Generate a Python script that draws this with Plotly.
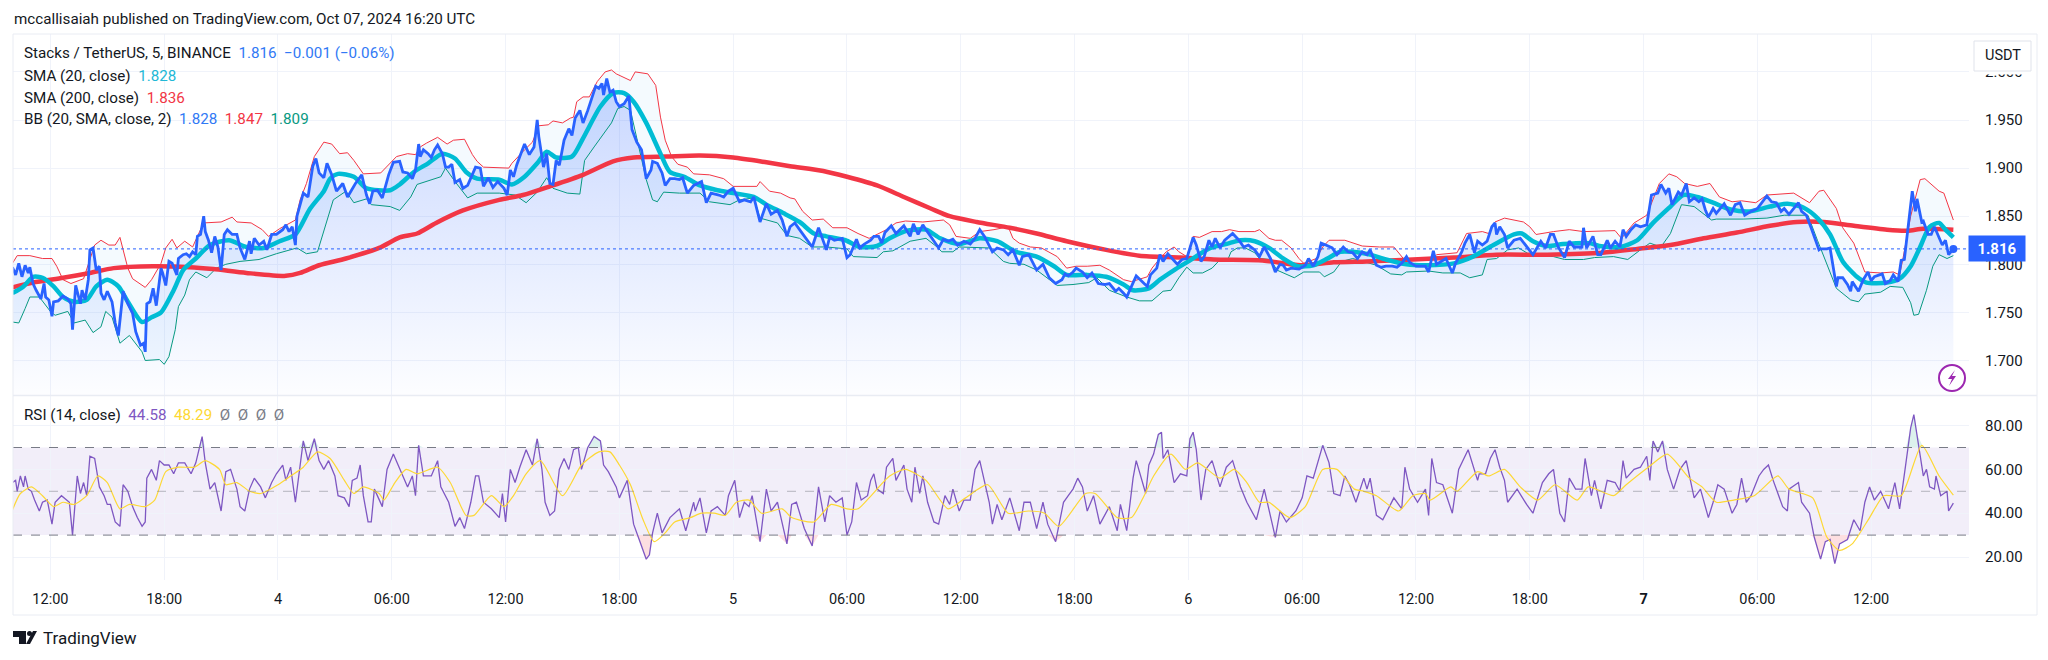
import numpy as np
import plotly.graph_objects as go

# x positions are 5 minute bars counted from Oct 03 10:00
tick_bars = [24, 96, 168, 240, 312, 384, 456, 528, 600, 672, 744, 816, 888, 960, 1032, 1104, 1176]
tick_text = ["12:00", "18:00", "4", "06:00", "12:00", "18:00", "5", "06:00", "12:00", "18:00", "6",
             "06:00", "12:00", "18:00", "<b>7</b>", "06:00", "12:00"]
price_ticks = [1.70, 1.75, 1.80, 1.85, 1.90, 1.95, 2.00]
rsi_ticks = [20, 40, 60, 80]
last_close = 1.816

close_pts = [(0,1.797),(2,1.789),(4,1.801),(6,1.787),(8,1.799),(10,1.791),(11,1.797),(13,1.780),(15,1.773),(18,1.764),
    (20,1.780),(21,1.766),(23,1.763),(25,1.746),(26,1.761),(29,1.762),(32,1.767),(35,1.764),(37,1.759),(38,1.732),
    (40,1.778),(43,1.759),(44,1.773),(46,1.763),(48,1.784),(49,1.815),(51,1.817),(53,1.794),(55,1.798),(56,1.770),
    (58,1.763),(60,1.772),(63,1.761),(65,1.739),(67,1.726),(70,1.772),(73,1.759),(76,1.749),(78,1.730),(81,1.716),
    (83,1.718),(84,1.709),(85,1.759),(87,1.761),(89,1.775),(91,1.757),(94,1.796),(95,1.791),(97,1.778),(99,1.803),
    (101,1.801),(104,1.789),(105,1.806),(108,1.810),(110,1.811),(112,1.808),(114,1.813),(116,1.810),(117,1.829),(119,1.831),
    (121,1.850),(122,1.834),(124,1.825),(126,1.812),(128,1.829),(130,1.818),(132,1.794),(134,1.831),(136,1.836),(139,1.831),
    (142,1.831),(144,1.817),(147,1.805),(150,1.824),(151,1.811),(153,1.827),(156,1.820),(159,1.824),(161,1.815),(164,1.831),
    (167,1.831),(171,1.836),(173,1.841),(175,1.834),(177,1.839),(179,1.820),(180,1.850),(184,1.874),(187,1.870),(190,1.902),
    (192,1.910),(194,1.895),(197,1.890),(199,1.905),(202,1.893),(205,1.876),(209,1.884),(212,1.870),(217,1.884),(221,1.893),
    (224,1.872),(226,1.863),(228,1.876),(231,1.877),(234,1.869),(238,1.893),(241,1.906),(245,1.907),(247,1.896),(250,1.895),
    (253,1.889),(255,1.898),(257,1.925),(258,1.912),(260,1.919),(263,1.915),(265,1.911),(267,1.919),(269,1.924),(272,1.915),
    (274,1.901),(276,1.901),(278,1.904),(280,1.885),(283,1.888),(285,1.879),(288,1.882),(291,1.893),(293,1.901),(296,1.900),
    (298,1.881),(301,1.890),(304,1.880),(307,1.886),(311,1.879),(313,1.872),(315,1.898),(317,1.891),(319,1.903),(321,1.912),
    (324,1.925),(327,1.914),(330,1.922),(332,1.950),(333,1.933),(336,1.901),(338,1.915),(340,1.884),(342,1.883),(344,1.908),
    (346,1.903),(349,1.929),(352,1.941),(354,1.934),(356,1.952),(359,1.960),(361,1.947),(364,1.960),(367,1.974),(369,1.985),
    (371,1.983),(373,1.988),(374,1.976),(376,1.993),(378,1.979),(380,1.981),(382,1.969),(384,1.964),(387,1.967),(390,1.975),
    (392,1.940),(395,1.927),(398,1.919),(401,1.889),(404,1.898),(405,1.907),(408,1.905),(411,1.895),(413,1.882),(416,1.889),
    (419,1.889),(422,1.888),(424,1.890),(427,1.874),(431,1.882),(434,1.884),(436,1.886),(439,1.864),(442,1.874),(447,1.872),
    (450,1.870),(453,1.876),(456,1.879),(460,1.865),(463,1.867),(467,1.865),(469,1.870),(473,1.844),(477,1.863),(480,1.852),
    (484,1.856),(487,1.846),(490,1.829),(492,1.839),(495,1.843),(498,1.836),(502,1.827),(506,1.818),(510,1.838),(513,1.825),
    (515,1.815),(517,1.828),(520,1.825),(525,1.827),(528,1.807),(530,1.810),(534,1.826),(536,1.817),(539,1.821),(543,1.825),
    (545,1.829),(548,1.829),(550,1.822),(552,1.833),(556,1.840),(559,1.832),(564,1.840),(568,1.829),(570,1.842),(573,1.831),
    (576,1.841),(578,1.836),(582,1.827),(586,1.817),(589,1.826),(592,1.824),(595,1.826),(598,1.820),(602,1.824),(606,1.821),
    (609,1.827),(612,1.836),(615,1.829),(620,1.813),(623,1.817),(627,1.815),(630,1.810),(633,1.815),(637,1.799),(639,1.808),
    (643,1.810),(648,1.794),(652,1.800),(656,1.786),(660,1.780),(664,1.784),(666,1.790),(668,1.788),(671,1.792),(673,1.796),
    (677,1.792),(680,1.786),(683,1.791),(687,1.780),(691,1.779),(694,1.780),(698,1.772),(700,1.775),(703,1.770),(705,1.766),
    (708,1.777),(711,1.788),(716,1.780),(718,1.777),(720,1.789),(724,1.796),(726,1.810),(728,1.803),(731,1.811),(735,1.803),
    (737,1.800),(740,1.805),(743,1.806),(747,1.828),(749,1.820),(752,1.803),(754,1.808),(757,1.825),(759,1.818),(761,1.827),
    (764,1.817),(767,1.825),(772,1.832),(776,1.825),(779,1.818),(782,1.820),(786,1.815),(789,1.808),(792,1.818),(796,1.806),
    (799,1.792),(802,1.800),(804,1.799),(806,1.794),(809,1.796),(814,1.795),(818,1.799),(820,1.806),(823,1.798),(826,1.808),
    (828,1.822),(831,1.820),(835,1.817),(838,1.810),(842,1.818),(845,1.813),(848,1.812),(851,1.806),(854,1.813),(857,1.810),
    (859,1.815),(863,1.799),(866,1.797),(869,1.798),(873,1.798),(876,1.797),(879,1.801),(882,1.808),(884,1.802),(888,1.798),
    (894,1.798),(896,1.792),(899,1.814),(901,1.800),(904,1.803),(907,1.806),(911,1.791),(913,1.801),(917,1.813),(919,1.822),
    (922,1.831),(925,1.812),(927,1.824),(930,1.820),(933,1.824),(936,1.839),(938,1.843),(939,1.831),(941,1.839),(944,1.831),
    (946,1.817),(950,1.825),(954,1.827),(958,1.819),(962,1.810),(967,1.824),(970,1.817),(973,1.831),(975,1.831),(978,1.818),
    (982,1.807),(985,1.824),(988,1.818),(993,1.818),(994,1.838),(996,1.817),(1000,1.829),(1003,1.810),(1005,1.810),(1009,1.825),
    (1011,1.817),(1014,1.824),(1017,1.818),(1019,1.836),(1021,1.829),(1024,1.836),(1027,1.841),(1030,1.839),(1034,1.841),(1035,1.851),
    (1037,1.872),(1041,1.874),(1043,1.883),(1046,1.874),(1048,1.879),(1050,1.862),(1054,1.875),(1056,1.872),(1059,1.884),(1061,1.865),
    (1064,1.869),(1067,1.865),(1069,1.868),(1071,1.857),(1073,1.849),(1076,1.858),(1078,1.853),(1083,1.863),(1087,1.851),(1090,1.862),
    (1093,1.864),(1096,1.851),(1100,1.855),(1104,1.858),(1108,1.867),(1110,1.871),(1113,1.865),(1116,1.864),(1119,1.855),(1121,1.858),
    (1124,1.852),(1127,1.858),(1130,1.864),(1132,1.855),(1135,1.851),(1138,1.838),(1143,1.815),(1144,1.816),(1148,1.816),(1150,1.817),
    (1152,1.797),(1154,1.777),(1155,1.786),(1158,1.786),(1161,1.779),(1163,1.772),(1164,1.782),(1168,1.772),(1171,1.784),(1174,1.792),
    (1176,1.783),(1178,1.787),(1183,1.790),(1185,1.780),(1188,1.783),(1190,1.789),(1193,1.782),(1195,1.804),(1197,1.805),(1200,1.846),
    (1202,1.876),(1204,1.855),(1205,1.868),(1208,1.844),(1209,1.845),(1212,1.831),(1214,1.831),(1216,1.839),(1219,1.827),(1221,1.820),
    (1223,1.825),(1225,1.810),(1228,1.816)]

upper_pts = [(0,1.801),(3,1.809),(11,1.809),(19,1.806),(25,1.806),(28,1.798),(32,1.784),(37,1.780),(45,1.785),(52,1.820),
    (56,1.825),(61,1.820),(65,1.820),(68,1.828),(73,1.796),(76,1.785),(84,1.776),(88,1.784),(94,1.801),(97,1.817),
    (101,1.826),(104,1.817),(109,1.824),(114,1.818),(117,1.829),(121,1.843),(132,1.844),(139,1.849),(142,1.844),(151,1.843),
    (158,1.836),(162,1.829),(169,1.837),(179,1.846),(182,1.867),(186,1.884),(191,1.912),(197,1.927),(202,1.925),(207,1.915),
    (212,1.916),(216,1.908),(222,1.894),(233,1.895),(243,1.912),(250,1.915),(255,1.914),(258,1.922),(262,1.926),(269,1.932),
    (275,1.925),(279,1.929),(286,1.930),(291,1.914),(294,1.907),(298,1.901),(314,1.900),(316,1.905),(324,1.919),(329,1.927),
    (333,1.944),(339,1.945),(342,1.949),(348,1.947),(353,1.952),(355,1.953),(357,1.969),(361,1.974),(365,1.974),(370,1.990),
    (375,2.000),(379,2.002),(382,1.998),(391,1.991),(394,2.000),(402,1.998),(407,1.986),(410,1.953),(413,1.929),(417,1.912),
    (421,1.904),(427,1.901),(431,1.894),(441,1.893),(450,1.889),(456,1.881),(471,1.881),(473,1.886),(479,1.876),(486,1.874),
    (492,1.869),(495,1.868),(500,1.855),(506,1.846),(513,1.847),(519,1.838),(528,1.838),(535,1.832),(542,1.827),(548,1.832),
    (553,1.836),(559,1.843),(565,1.845),(576,1.844),(589,1.846),(593,1.841),(597,1.829),(606,1.827),(612,1.834),(621,1.836),
    (630,1.839),(633,1.827),(637,1.822),(644,1.818),(651,1.817),(661,1.808),(667,1.796),(673,1.798),(680,1.798),(688,1.799),
    (694,1.794),(703,1.784),(708,1.782),(718,1.787),(721,1.796),(726,1.806),(730,1.813),(735,1.818),(738,1.813),(743,1.808),
    (747,1.829),(751,1.828),(759,1.834),(765,1.834),(770,1.836),(776,1.834),(786,1.834),(789,1.836),(795,1.827),(799,1.825),
    (803,1.825),(809,1.817),(814,1.806),(817,1.801),(825,1.806),(829,1.818),(833,1.825),(843,1.825),(854,1.819),(865,1.818),
    (874,1.818),(880,1.806),(899,1.806),(901,1.810),(914,1.812),(920,1.832),(930,1.834),(934,1.832),(938,1.844),(944,1.848),
    (956,1.844),(960,1.839),(964,1.831),(975,1.834),(985,1.836),(994,1.834),(1014,1.835),(1018,1.827),(1026,1.843),(1034,1.851),
    (1042,1.884),(1048,1.894),(1053,1.891),(1058,1.884),(1066,1.881),(1074,1.884),(1080,1.870),(1088,1.865),(1094,1.866),(1103,1.864),
    (1110,1.872),(1127,1.874),(1137,1.864),(1143,1.876),(1146,1.877),(1154,1.858),(1158,1.838),(1165,1.822),(1172,1.792),(1182,1.791),
    (1190,1.792),(1194,1.789),(1196,1.805),(1201,1.850),(1207,1.888),(1210,1.889),(1219,1.876),(1222,1.874),(1228,1.846)]

lower_pts = [(0,1.740),(4,1.739),(8,1.754),(11,1.766),(17,1.766),(24,1.751),(27,1.747),(35,1.751),(39,1.739),(46,1.742),
    (51,1.729),(56,1.735),(59,1.751),(63,1.745),(68,1.718),(74,1.726),(82,1.709),(84,1.700),(93,1.701),(96,1.696),
    (99,1.704),(103,1.732),(105,1.756),(109,1.768),(112,1.784),(116,1.792),(123,1.786),(129,1.796),(135,1.800),(144,1.803),
    (156,1.805),(167,1.811),(180,1.817),(186,1.811),(193,1.813),(196,1.829),(203,1.867),(211,1.876),(216,1.864),(224,1.868),
    (227,1.862),(239,1.860),(245,1.856),(252,1.870),(256,1.883),(271,1.891),(274,1.900),(280,1.886),(285,1.875),(288,1.869),
    (294,1.874),(308,1.874),(318,1.872),(325,1.864),(332,1.875),(338,1.890),(342,1.879),(351,1.874),(359,1.873),(362,1.908),
    (368,1.922),(374,1.936),(379,1.947),(383,1.962),(387,1.964),(391,1.960),(395,1.931),(401,1.888),(405,1.867),(408,1.865),
    (412,1.875),(422,1.874),(435,1.874),(441,1.865),(454,1.862),(460,1.867),(469,1.869),(473,1.848),(484,1.843),(490,1.830),
    (498,1.827),(506,1.818),(515,1.818),(528,1.816),(532,1.808),(547,1.807),(551,1.813),(557,1.814),(568,1.824),(578,1.827),
    (585,1.818),(588,1.813),(595,1.813),(599,1.818),(618,1.817),(627,1.803),(631,1.801),(640,1.800),(648,1.794),(656,1.784),
    (661,1.778),(671,1.779),(681,1.781),(686,1.786),(694,1.773),(705,1.766),(713,1.762),(721,1.762),(728,1.772),(733,1.773),
    (738,1.786),(743,1.797),(747,1.791),(753,1.791),(759,1.796),(763,1.803),(769,1.805),(771,1.813),(775,1.817),(780,1.817),
    (786,1.812),(789,1.806),(796,1.805),(800,1.794),(811,1.786),(817,1.792),(827,1.792),(830,1.787),(836,1.792),(841,1.803),
    (848,1.806),(863,1.799),(872,1.790),(879,1.789),(882,1.792),(896,1.793),(905,1.791),(916,1.791),(922,1.786),(930,1.789),
    (933,1.805),(939,1.806),(946,1.815),(953,1.817),(960,1.810),(975,1.808),(982,1.805),(994,1.805),(1001,1.807),(1013,1.808),
    (1022,1.805),(1030,1.815),(1036,1.822),(1043,1.818),(1049,1.832),(1056,1.862),(1064,1.860),(1075,1.846),(1078,1.847),(1095,1.847),
    (1110,1.848),(1121,1.851),(1136,1.851),(1142,1.825),(1148,1.801),(1154,1.775),(1163,1.763),(1168,1.761),(1172,1.769),(1182,1.771),
    (1188,1.777),(1196,1.776),(1201,1.760),(1203,1.747),(1206,1.748),(1211,1.773),(1215,1.798),(1219,1.810),(1224,1.806),(1228,1.809)]

sma20_pts = [(0,1.770),(7,1.777),(13,1.787),(19,1.786),(26,1.777),(32,1.766),(39,1.761),(47,1.763),(53,1.777),(60,1.784),
    (67,1.777),(73,1.761),(82,1.740),(88,1.745),(94,1.750),(102,1.773),(108,1.794),(116,1.806),(125,1.820),(137,1.825),
    (148,1.818),(159,1.817),(169,1.824),(179,1.831),(188,1.857),(197,1.876),(201,1.889),(206,1.894),(216,1.891),(224,1.879),
    (239,1.877),(245,1.883),(254,1.896),(263,1.905),(272,1.915),(280,1.910),(287,1.896),(294,1.889),(308,1.888),(316,1.883),
    (324,1.891),(332,1.905),(338,1.917),(344,1.911),(354,1.912),(361,1.931),(372,1.964),(380,1.978),(387,1.978),(393,1.969),
    (401,1.947),(410,1.915),(416,1.896),(425,1.891),(435,1.882),(446,1.877),(456,1.874),(469,1.870),(477,1.862),(488,1.853),
    (498,1.844),(507,1.832),(515,1.829),(527,1.825),(536,1.818),(547,1.819),(555,1.827),(566,1.835),(578,1.836),(587,1.827),
    (599,1.821),(612,1.827),(623,1.824),(635,1.813),(648,1.808),(659,1.798),(667,1.789),(680,1.789),(692,1.787),(703,1.779),
    (709,1.773),(719,1.775),(726,1.784),(735,1.794),(744,1.803),(758,1.817),(770,1.822),(777,1.825),(786,1.824),(795,1.817),
    (804,1.806),(813,1.798),(823,1.799),(832,1.806),(840,1.813),(848,1.813),(859,1.810),(869,1.805),(882,1.800),(895,1.799),
    (912,1.801),(924,1.808),(937,1.820),(950,1.831),(955,1.832),(962,1.824),(971,1.819),(981,1.821),(998,1.822),(1004,1.819),
    (1017,1.818),(1028,1.825),(1038,1.843),(1049,1.860),(1057,1.872),(1066,1.870),(1076,1.864),(1087,1.857),(1099,1.855),(1112,1.860),
    (1123,1.863),(1133,1.859),(1142,1.848),(1150,1.831),(1158,1.803),(1167,1.787),(1173,1.781),(1186,1.781),(1194,1.785),(1201,1.798),
    (1207,1.818),(1213,1.839),(1219,1.843),(1223,1.836),(1228,1.828)]

sma200_pts = [(0,1.776),(13,1.781),(32,1.786),(49,1.791),(64,1.796),(89,1.798),(112,1.797),(127,1.795),(148,1.791),(173,1.788),
    (182,1.791),(194,1.799),(211,1.806),(232,1.817),(245,1.828),(256,1.832),(268,1.843),(285,1.856),(308,1.867),(323,1.872),
    (340,1.881),(361,1.893),(380,1.907),(393,1.911),(414,1.912),(435,1.913),(456,1.911),(477,1.906),(492,1.902),(513,1.897),
    (528,1.891),(547,1.882),(564,1.870),(581,1.858),(593,1.850),(610,1.844),(631,1.838),(648,1.832),(667,1.824),(692,1.815),
    (713,1.809),(739,1.807),(760,1.805),(791,1.804),(815,1.799),(836,1.802),(857,1.803),(886,1.805),(912,1.807),(939,1.810),
    (971,1.810),(1006,1.812),(1028,1.816),(1049,1.820),(1070,1.827),(1091,1.833),(1112,1.840),(1129,1.844),(1146,1.844),(1165,1.840),
    (1186,1.836),(1199,1.835),(1209,1.837),(1228,1.836)]

rsi_pts = [(0,54),(2,55),(3,50),(5,57),(7,52),(8,57),(10,51),(12,50),(14,46),(17,41),(19,45),(22,46),(25,35),(27,45),(31,48),
    (36,45),(38,30),(41,57),(43,49),(45,54),(47,48),(49,66),(52,65),(55,52),(58,48),(60,44),(62,44),(65,36),(68,34),(70,53),
    (73,50),(76,43),(79,38),(82,34),(84,36),(85,56),(88,60),(91,55),(93,64),(96,62),(99,62),(102,58),(105,63),(109,63),(113,58),
    (116,63),(118,69),(120,75),(122,63),(125,51),(128,54),(132,41),(135,59),(138,60),(142,51),(144,43),(147,41),(150,51),(153,56),
    (157,52),(160,47),(164,54),(167,58),(171,62),(173,55),(176,61),(179,45),(181,57),(184,73),(187,64),(191,74),(194,64),(197,60),
    (200,64),(204,57),(206,48),(210,47),(213,43),(215,55),(218,56),(220,62),(222,48),(225,36),(227,36),(229,51),(234,43),(237,60),
    (241,67),(245,60),(248,55),(250,52),(253,57),(255,48),(257,71),(260,57),(265,57),(269,64),(271,52),(276,45),(280,34),(283,38),
    (286,33),(290,45),(293,57),(295,57),(298,45),(303,42),(308,38),(310,49),(312,36),(315,60),(318,54),(321,61),(325,69),(329,62),
    (332,74),(335,60),(337,45),(340,39),(343,41),(346,60),(349,65),(352,60),(355,69),(358,70),(360,60),(364,70),(368,75),(372,73),
    (374,62),(377,59),(382,52),(384,47),(389,55),(393,35),(396,29),(401,19),(403,21),(405,31),(408,40),(411,31),(416,38),(422,42),
    (426,32),(431,45),(432,41),(435,47),(439,31),(442,41),(446,43),(451,39),(453,48),(456,53),(457,55),(460,38),(463,45),(466,43),
    (468,48),(473,27),(477,51),(480,41),(484,45),(490,26),(493,44),(496,45),(501,33),(506,25),(510,52),(514,36),(517,48),(521,45),
    (525,47),(528,30),(531,36),(534,54),(537,46),(541,48),(543,55),(545,58),(547,51),(551,49),(553,61),(557,65),(559,55),(564,62),
    (566,51),(569,45),(571,61),(574,49),(576,57),(579,45),(583,36),(586,35),(590,48),(593,44),(595,51),(599,41),(602,46),(606,46),
    (609,60),(612,64),(615,55),(618,45),(620,35),(623,44),(626,37),(631,47),(637,32),(640,45),(644,45),(648,33),(652,45),(655,35),
    (660,27),(665,45),(668,48),(671,51),(674,56),(677,52),(680,41),(684,48),(688,35),(694,43),(699,32),(701,44),(705,32),(709,56),
    (711,64),(715,54),(717,49),(719,62),(722,67),(725,76),(727,77),(728,65),(731,69),(735,54),(739,58),(743,57),(745,74),(747,77),
    (749,69),(752,46),(755,60),(759,64),(764,52),(768,61),(772,64),(777,52),(781,45),(787,37),(792,51),(799,29),(802,41),(806,36),
    (812,41),(816,47),(819,57),(823,56),(829,71),(833,63),(836,49),(840,48),(843,57),(846,53),(850,45),(855,56),(857,51),(859,56),
    (863,39),(867,37),(870,41),(874,47),(879,42),(881,61),(884,51),(889,45),(894,51),(896,39),(898,65),(901,54),(905,53),(911,40),
    (915,60),(921,69),(927,55),(928,58),(932,58),(935,65),(938,69),(941,61),(944,55),(946,45),(952,51),(958,44),(962,40),(968,54),
    (972,58),(975,60),(979,40),(982,36),(985,56),(989,51),(993,51),(995,65),(999,48),(1001,55),(1005,42),(1009,55),(1014,54),(1017,50),
    (1019,64),(1021,56),(1026,60),(1030,61),(1034,66),(1036,55),(1038,73),(1041,68),(1044,73),(1047,60),(1051,51),(1055,60),(1059,64),(1064,47),
    (1068,51),(1073,38),(1076,45),(1079,53),(1083,51),(1088,40),(1091,44),(1094,56),(1097,45),(1100,48),(1105,57),(1108,60),(1111,62),(1114,55),
    (1120,43),(1123,41),(1124,51),(1130,54),(1132,45),(1137,40),(1140,29),(1144,19),(1147,27),(1150,28),(1153,17),(1156,26),(1161,28),(1165,37),
    (1169,32),(1172,45),(1175,52),(1178,46),(1182,50),(1187,42),(1191,54),(1194,42),(1198,63),(1201,79),(1203,85),(1205,76),(1209,57),(1211,60),
    (1213,52),(1216,51),(1217,57),(1220,48),(1224,50),(1225,41),(1228,44.58)]

rsi_ma_pts = [(0,41.5),(5,49),(12,52),(19,48),(26,43),(32,45),(39,44),(47,48),(54,57),(60,54),(68,42),(74,44),(84,43),(90,46),(97,59),
    (105,61),(115,61),(122,64),(131,60),(135,53),(142,54),(150,50),(157,49),(168,53),(176,57),(184,61),(193,68),(201,65),(210,55),(216,49),
    (222,52),(232,49),(235,46),(242,54),(249,60),(256,58),(269,61),(277,54),(287,39),(292,39),(303,48),(311,43),(317,48),(325,58),(334,64),
    (348,48),(360,62),(371,68),(378,68),(384,62),(391,53),(399,37),(406,27),(413,31),(419,36),(429,38),(436,40),(444,40),(451,39),(458,45),
    (466,46),(474,40),(487,42),(493,38),(507,36),(518,44),(528,42),(535,42),(542,47),(555,57),(565,60),(578,55),(592,42),(603,47),(617,53),
    (630,40),(643,41),(653,40),(662,34),(679,49),(685,49),(699,38),(708,38),(716,48),(722,57),(733,67),(742,60),(750,63),(764,56),(773,60),
    (781,54),(789,45),(795,45),(808,38),(818,43),(829,60),(838,60),(849,51),(855,50),(863,48),(877,41),(886,48),(894,49),(897,46),(910,52),
    (914,50),(927,59),(934,57),(944,60),(954,52),(965,46),(976,53),(990,46),(997,52),(1013,48),(1021,53),(1035,61),(1047,67),(1061,56),(1069,52),
    (1078,45),(1089,46),(1102,48),(1117,57),(1124,51),(1139,47),(1148,29),(1156,23),(1164,26),(1175,38),(1184,48),(1195,48),(1208,71),(1219,57),(1228,48.29)]

W, H = 2048, 660
FONT = "Roboto"
TEXT = "#131722"
GRID = "#f0f3fa"
BLUE = "#2962ff"
TEAL = "#00bcd4"
RED = "#f23645"
GREEN = "#089981"
PURPLE = "#7e57c2"
YELLOW = "#fdd835"
PRICE_RANGE = [1.6634, 2.0394]
RSI_RANGE = [9.5, 93.65]


def split(pts):
    xs, ys = zip(*pts)
    return list(xs), list(ys)


def px(x):
    return x / W


def py(y):
    return 1 - y / H


def poly(points):
    return "M" + " L".join(f"{px(x):.5f},{py(y):.5f}" for x, y in points) + " Z"


fig = go.Figure()

close_x, close_y = split(close_pts)
upper_x, upper_y = split(upper_pts)
lower_x, lower_y = split(lower_pts)
sma20_x, sma20_y = split(sma20_pts)
sma200_x, sma200_y = split(sma200_pts)
rsi_x, rsi_y = split(rsi_pts)
rsima_x, rsima_y = split(rsi_ma_pts)

# area under the close
fig.add_trace(go.Scatter(x=[close_x[0], close_x[-1]], y=[PRICE_RANGE[0]] * 2, mode="lines",
                         line=dict(width=0), hoverinfo="skip"))
fig.add_trace(go.Scatter(x=close_x, y=close_y, mode="lines", line=dict(width=0), hoverinfo="skip",
                         fill="tonexty",
                         fillgradient=dict(type="vertical", start=PRICE_RANGE[0], stop=2.0,
                                           colorscale=[[0, "rgba(41,98,255,0.01)"], [1, "rgba(41,98,255,0.26)"]])))
# bollinger bands
fig.add_trace(go.Scatter(x=lower_x, y=lower_y, mode="lines", line=dict(color=GREEN, width=1), opacity=0.85))
fig.add_trace(go.Scatter(x=upper_x, y=upper_y, mode="lines", line=dict(color=RED, width=1), opacity=0.9,
                         fill="tonexty", fillcolor="rgba(33,150,243,0.05)"))
fig.add_trace(go.Scatter(x=sma200_x, y=sma200_y, mode="lines", line=dict(color=RED, width=4.5, shape="spline", smoothing=0.7)))
fig.add_trace(go.Scatter(x=sma20_x, y=sma20_y, mode="lines", line=dict(color=TEAL, width=4.5, shape="spline", smoothing=0.7)))
fig.add_trace(go.Scatter(x=close_x, y=close_y, mode="lines", line=dict(color=BLUE, width=2.8)))
fig.add_trace(go.Scatter(x=close_x[-1:], y=[last_close], mode="markers", marker=dict(color=BLUE, size=8)))

# rsi pane
rsi_arr = np.array(rsi_y, dtype=float)
fig.add_trace(go.Scatter(x=rsi_x, y=[30] * len(rsi_x), mode="lines", line=dict(width=0), xaxis="x2", yaxis="y2"))
fig.add_trace(go.Scatter(x=rsi_x, y=np.minimum(rsi_arr, 30), mode="lines", line=dict(width=0), xaxis="x2", yaxis="y2",
                         fill="tonexty", fillcolor="rgba(242,54,69,0.16)"))
fig.add_trace(go.Scatter(x=rsi_x, y=[70] * len(rsi_x), mode="lines", line=dict(width=0), xaxis="x2", yaxis="y2"))
fig.add_trace(go.Scatter(x=rsi_x, y=np.maximum(rsi_arr, 70), mode="lines", line=dict(width=0), xaxis="x2", yaxis="y2",
                         fill="tonexty", fillcolor="rgba(8,153,129,0.14)"))
fig.add_trace(go.Scatter(x=rsi_x, y=rsi_y, mode="lines", line=dict(color=PURPLE, width=1.3), xaxis="x2", yaxis="y2"))
fig.add_trace(go.Scatter(x=rsima_x, y=rsima_y, mode="lines", line=dict(color=YELLOW, width=1.2, shape="spline", smoothing=0.6), xaxis="x2", yaxis="y2"))

fig.add_shape(type="rect", xref="x2 domain", yref="y2", x0=0, x1=1, y0=30, y1=70,
              fillcolor="rgba(126,87,194,0.1)", line_width=0, layer="below")
for level, col in [(70, "#787b86"), (50, "rgba(120,123,134,0.5)"), (30, "#787b86")]:
    fig.add_shape(type="line", xref="x2 domain", yref="y2", x0=0, x1=1, y0=level, y1=level,
                  line=dict(color=col, width=1, dash="dash"))
fig.add_shape(type="line", xref="x domain", yref="y", x0=0, x1=1, y0=last_close, y1=last_close,
              line=dict(color=BLUE, width=1, dash="dot"))

# frame, pane separator, price axis button
for x0, y0, x1, y1 in [(13, 34, 2037, 34), (13, 34, 13, 615), (2037, 34, 2037, 615), (13, 615, 2037, 615), (13, 395.5, 2037, 395.5)]:
    fig.add_shape(type="line", xref="paper", yref="paper", x0=px(x0), y0=py(y0), x1=px(x1), y1=py(y1),
                  line=dict(color="#e9ecf3", width=1.5 if y0 == y1 == 395.5 else 1))
# the button sits over the 2.000 label, only its lower edge shows
fig.add_shape(type="rect", xref="paper", yref="paper", x0=px(1972), x1=px(2033), y0=py(36), y1=py(74.5),
              fillcolor="white", line=dict(width=0), layer="above")
fig.add_shape(type="rect", xref="paper", yref="paper", x0=px(1974), x1=px(2031), y0=py(41), y1=py(71),
              fillcolor="white", line=dict(color="#e0e3eb", width=1), layer="above")
# replay icon
fig.add_shape(type="circle", xref="paper", yref="paper", x0=px(1939), x1=px(1965), y0=py(365), y1=py(391),
              fillcolor="white", line=dict(color="#9c27b0", width=2))
fig.add_shape(type="path", xref="paper", yref="paper", fillcolor="#9c27b0", line=dict(width=0),
              path=poly([(1955, 370), (1948, 379), (1952, 379), (1949, 386), (1956, 376), (1952, 376)]))
# logo
fig.add_shape(type="path", xref="paper", yref="paper", fillcolor=TEXT, line=dict(width=0),
              path=poly([(13, 631), (26, 631), (26, 644), (19, 644), (19, 637), (13, 637)]))
fig.add_shape(type="circle", xref="paper", yref="paper", x0=px(27), x1=px(32), y0=py(631), y1=py(636),
              fillcolor=TEXT, line=dict(width=0))
fig.add_shape(type="path", xref="paper", yref="paper", fillcolor=TEXT, line=dict(width=0),
              path=poly([(33, 631), (37, 631), (30, 644), (26, 644)]))


def label(text, x, y, size=15.2, xanchor="left", **kw):
    fig.add_annotation(text=text, x=px(x), y=py(y), xref="paper", yref="paper", showarrow=False,
                       xanchor=xanchor, yanchor="middle", align="left", borderpad=0,
                       font=dict(family=FONT, size=size, color=kw.pop("color", TEXT)), **kw)


def tint(text, col):
    return f'<span style="color:{col}">{text}</span>'


label("mccallisaiah published on TradingView.com, Oct 07, 2024 16:20 UTC", 13, 19)
label("Stacks / TetherUS, 5, BINANCE&nbsp;&nbsp;" + tint("1.816&nbsp;&nbsp;−0.001 (−0.06%)", "#3179f5"), 23, 53)
label("SMA (20, close)&nbsp;&nbsp;" + tint("1.828", "#22b8d6"), 23, 76)
label("SMA (200, close)&nbsp;&nbsp;" + tint("1.836", RED), 23, 98)
label("BB (20, SMA, close, 2)&nbsp;&nbsp;" + tint("1.828", "#3179f5") + "&nbsp;&nbsp;" + tint("1.847", RED) + "&nbsp;&nbsp;" + tint("1.809", GREEN), 23, 119)
label("RSI (14, close)&nbsp;&nbsp;" + tint("44.58", PURPLE) + "&nbsp;&nbsp;" + tint("48.29", YELLOW)
      + "&nbsp;&nbsp;" + tint("Ø&nbsp;&nbsp;Ø&nbsp;&nbsp;Ø&nbsp;&nbsp;Ø", "#787b86"), 23, 415)
label("TradingView", 42, 638, size=17)
label("USDT", 2002.5, 56, size=14.5, xanchor="center")
fig.add_annotation(text="<b>1.816</b>", x=px(1997), y=last_close, xref="paper", yref="y", showarrow=False,
                   xanchor="center", bgcolor=BLUE, width=54, height=23, font=dict(family=FONT, size=15, color="white"))

axis_common = dict(showline=False, zeroline=False, gridcolor=GRID, gridwidth=1)
fig.update_layout(
    width=W, height=H, margin=dict(l=0, r=0, t=0, b=0), paper_bgcolor="white", plot_bgcolor="white",
    showlegend=False, hovermode=False,
    xaxis=dict(domain=[px(13), px(1969)], range=[0.34, 1237.9], tickvals=tick_bars, showticklabels=False,
               ticks="", anchor="y", **axis_common),
    yaxis=dict(domain=[py(395.7), py(34)], range=PRICE_RANGE, side="right", tickvals=price_ticks, tickformat=".3f",
               ticks="outside", ticklen=12, tickcolor="rgba(0,0,0,0)", anchor="x",
               tickfont=dict(family=FONT, size=15, color=TEXT), **axis_common),
    xaxis2=dict(domain=[px(13), px(1969)], range=[0.34, 1237.9], tickvals=tick_bars, ticktext=tick_text,
                ticks="outside", ticklen=6, tickcolor="rgba(0,0,0,0)", anchor="y2",
                tickfont=dict(family=FONT, size=14.5, color=TEXT), **axis_common),
    yaxis2=dict(domain=[py(580), py(395.7)], range=RSI_RANGE, side="right", tickvals=rsi_ticks, tickformat=".2f",
                ticks="outside", ticklen=12, tickcolor="rgba(0,0,0,0)", anchor="x2",
                tickfont=dict(family=FONT, size=15, color=TEXT), **axis_common),
)

fig.write_html("out.html", config=dict(displayModeBar=False), post_script="document.body.style.margin='0';")
